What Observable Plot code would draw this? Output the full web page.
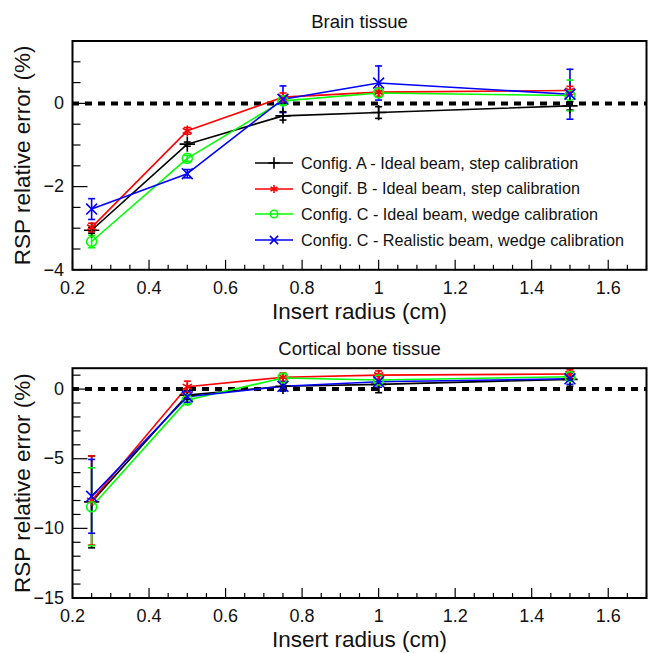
<!DOCTYPE html>
<html>
<head>
<meta charset="utf-8">
<script src="https://cdn.jsdelivr.net/npm/d3@7"></script>
<script src="https://cdn.jsdelivr.net/npm/@observablehq/plot@0.6"></script>
<style>
  html, body { margin: 0; padding: 0; background: #fff; }
  #wrap { position: relative; width: 649px; height: 653px; font-family: "Liberation Sans", Arial, Helvetica, sans-serif; }
  #wrap svg { display: block; overflow: visible; }
  .leg { position: absolute; left: 255px; display: flex; align-items: center; font-size: 16.2px; color: #111; white-space: nowrap; }
  .leg svg { margin-right: 6px; }
</style>
</head>
<body>
<div id="wrap"></div>
<script>
// ---------- data ----------
const radius = [0.25, 0.5, 0.75, 1.0, 1.5];
const seriesNames = [
  "Config. A - Ideal beam, step calibration",
  "Congif. B - Ideal beam, step calibration",
  "Config. C - Ideal beam, wedge calibration",
  "Config. C - Realistic beam, wedge calibration"
];
const seriesColors = ["#000000", "#ff0000", "#00ff00", "#0000ff"];
const seriesSymbols = ["plus", "asterisk", "circle", "times"];

// Brain tissue
const brainA    = [-3.05, -0.98, -0.30, -0.22, -0.06];
const brainAErr = [0.07, 0.05, 0.10, 0.14, 0.10];
const brainB    = [-2.98, -0.66, 0.15, 0.27, 0.31];
const brainBErr = [0.10, 0.08, 0.10, 0.10, 0.10];
const brainC    = [-3.32, -1.32, 0.06, 0.25, 0.19];
const brainCErr = [0.15, 0.07, 0.10, 0.10, 0.37];
const brainR    = [-2.54, -1.69, 0.10, 0.49, 0.22];
const brainRErr = [0.25, 0.10, 0.32, 0.41, 0.60];

// Cortical bone tissue
const boneA    = [-8.10, -0.43, 0.20, 0.34, 0.70];
const boneAErr = [3.30, 0.30, 0.30, 0.60, 0.50];
const boneB    = [-8.00, 0.17, 0.85, 1.00, 1.08];
const boneBErr = [3.20, 0.40, 0.30, 0.30, 0.30];
const boneC    = [-8.45, -0.79, 0.80, 0.65, 0.89];
const boneCErr = [2.80, 0.30, 0.30, 0.30, 0.30];
const boneR    = [-7.70, -0.55, 0.20, 0.53, 0.74];
const boneRErr = [2.65, 0.40, 0.35, 0.40, 0.40];

// Axis ticks
const xDomain = [0.2, 1.7];
const xMajor = [0.2, 0.4, 0.6, 0.8, 1.0, 1.2, 1.4, 1.6];
const xMinor = d3.range(0, 31).map(i => +(0.2 + i * 0.05).toFixed(2)).filter(v => !xMajor.some(m => Math.abs(m - v) < 1e-6));
const brainYDomain = [-4, 1.5];
const brainYMajor = [-4, -2, 0];
const brainYMinor = [-3.5, -3, -2.5, -1.5, -1, -0.5, 0.5, 1, 1.5];
const boneYDomain = [-15, 1.5];
const boneYMajor = [-15, -10, -5, 0];
const boneYMinor = [-14, -13, -12, -11, -9, -8, -7, -6, -4, -3, -2, -1, 1];

const xLabel = "Insert radius (cm)";
const yLabel = "RSP relative error (%)";

// ---------- helpers ----------
function table(vals, errs) {
  const out = [];
  vals.forEach((arr, s) => arr.forEach((v, i) => out.push({s: seriesNames[s], r: radius[i], v, e: errs[s][i]})));
  return out;
}
const tickUp = len => ({draw(c) { c.moveTo(0, 0); c.lineTo(0, -len); }});
const tickRight = len => ({draw(c) { c.moveTo(0, 0); c.lineTo(len, 0); }});
const cap = {draw(c) { c.moveTo(-3.5, 0); c.lineTo(3.5, 0); }};
const minusFmt = d => (d < 0 ? "\u2212" + (-d) : String(d));
const xFmt = d => String(+d.toFixed(1));

function panel({title, data, yDomain, yMajor, yMinor, height, marginTop, marginBottom}) {
  const ymin = yDomain[0], xmin = xDomain[0];
  return Plot.plot({
    width: 649, height,
    marginLeft: 72, marginRight: 3, marginTop, marginBottom,
    style: {fontFamily: '"Liberation Sans", Arial, Helvetica, sans-serif', fontSize: "18px", color: "#111", background: "#fff", overflow: "visible"},
    x: {domain: xDomain},
    y: {domain: yDomain},
    color: {domain: seriesNames, range: seriesColors},
    symbol: {domain: seriesNames, range: seriesSymbols},
    marks: [
      Plot.axisX({ticks: xMajor, tickSize: 0, tickPadding: 11, tickFormat: xFmt, label: null, fontSize: 18}),
      Plot.axisY({ticks: yMajor, tickSize: 0, tickPadding: 8.5, tickFormat: minusFmt, label: null, fontSize: 18}),
      Plot.ruleY([0], {stroke: "#000", strokeWidth: 4, strokeDasharray: "7,6"}),
      Plot.line(data, {x: "r", y: "v", z: "s", stroke: "s", strokeWidth: 1.6}),
      Plot.ruleX(data, {x: "r", y1: d => d.v - d.e, y2: d => d.v + d.e, stroke: "s", strokeWidth: 1.6}),
      Plot.dot(data, {x: "r", y: d => d.v - d.e, symbol: cap, stroke: "s", strokeWidth: 1.6, fill: "none"}),
      Plot.dot(data, {x: "r", y: d => d.v + d.e, symbol: cap, stroke: "s", strokeWidth: 1.6, fill: "none"}),
      Plot.dot(data, {x: "r", y: "v", symbol: "s", stroke: "s", r: 5, strokeWidth: 1.6, fill: "none"}),
      Plot.dot(xMajor, {x: d => d, y: () => ymin, symbol: tickUp(10), stroke: "#000", strokeWidth: 1.2, fill: "none"}),
      Plot.dot(xMinor, {x: d => d, y: () => ymin, symbol: tickUp(5), stroke: "#000", strokeWidth: 1.2, fill: "none"}),
      Plot.dot(yMajor, {x: () => xmin, y: d => d, symbol: tickRight(15), stroke: "#000", strokeWidth: 1.2, fill: "none"}),
      Plot.dot(yMinor, {x: () => xmin, y: d => d, symbol: tickRight(8), stroke: "#000", strokeWidth: 1.2, fill: "none"}),
      Plot.frame({stroke: "#000", strokeWidth: 2}),
      Plot.text([title], {text: d => d, frameAnchor: "top", dy: -26, fontSize: 18.5}),
      Plot.text([xLabel], {text: d => d, frameAnchor: "bottom", dy: 49, fontSize: 22.5}),
      Plot.text([yLabel], {text: d => d, frameAnchor: "left", textAnchor: "middle", dx: -50, rotate: -90, fontSize: 22.5})
    ]
  });
}

const wrap = document.getElementById("wrap");
wrap.appendChild(panel({
  title: "Brain tissue",
  data: table([brainA, brainB, brainC, brainR], [brainAErr, brainBErr, brainCErr, brainRErr]),
  yDomain: brainYDomain, yMajor: brainYMajor, yMinor: brainYMinor,
  height: 325, marginTop: 40.5, marginBottom: 55.7
}));
wrap.appendChild(panel({
  title: "Cortical bone tissue",
  data: table([boneA, boneB, boneC, boneR], [boneAErr, boneBErr, boneCErr, boneRErr]),
  yDomain: boneYDomain, yMajor: boneYMajor, yMinor: boneYMinor,
  height: 328, marginTop: 42.7, marginBottom: 55.5
}));

// legend (top panel)
const symMap = {plus: d3.symbolPlus, asterisk: d3.symbolAsterisk, circle: d3.symbolCircle, times: d3.symbolTimes};
seriesNames.forEach((name, i) => {
  const row = document.createElement("div");
  row.className = "leg";
  row.style.top = (153 + i * 25.7) + "px";
  const svg = d3.create("svg").attr("width", 40).attr("height", 20);
  svg.append("line").attr("x1", 0).attr("x2", 38).attr("y1", 10).attr("y2", 10).attr("stroke", seriesColors[i]).attr("stroke-width", 1.6);
  svg.append("path").attr("transform", "translate(19,10)")
    .attr("d", d3.symbol(symMap[seriesSymbols[i]], 45)())
    .attr("fill", "none").attr("stroke", seriesColors[i]).attr("stroke-width", 1.6);
  row.appendChild(svg.node());
  const t = document.createElement("span");
  t.textContent = name;
  row.appendChild(t);
  wrap.appendChild(row);
});
</script>
</body>
</html>
